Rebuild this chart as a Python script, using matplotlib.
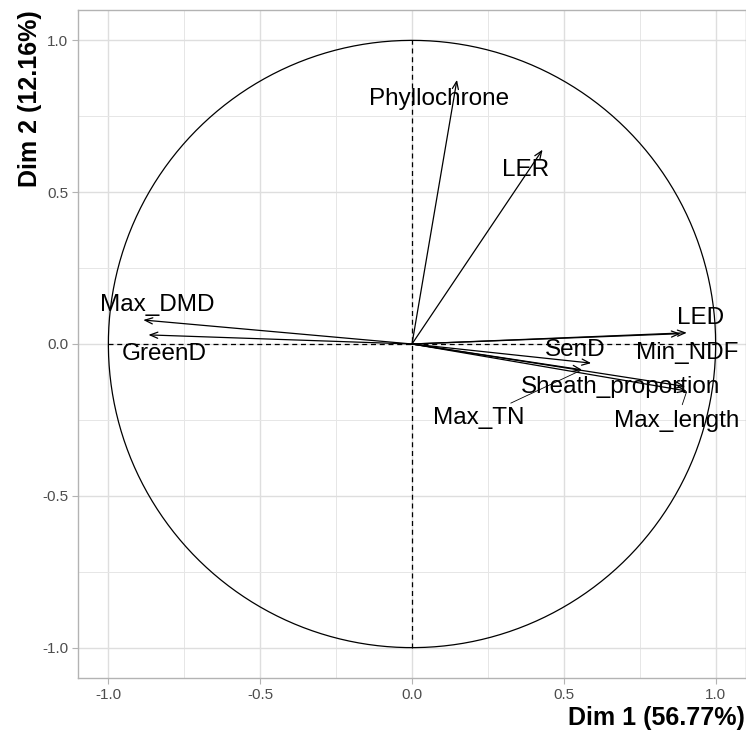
import numpy as np
import matplotlib.pyplot as plt

# PCA variable coordinates (Dim 1, Dim 2)
variables = ['Phyllochrone', 'LER', 'Max_DMD', 'GreenD', 'LED', 'Min_NDF',
             'SenD', 'Sheath_proportion', 'Max_TN', 'Max_length']
dim1 = [0.148, 0.43, -0.885, -0.868, 0.905, 0.885, 0.59, 0.90, 0.56, 0.905]
dim2 = [0.87, 0.64, 0.079, 0.030, 0.037, 0.034, -0.063, -0.140, -0.085, -0.155]

# repelled label positions
lab_x = [0.09, 0.375, -0.84, -0.816, 0.95, 0.905, 0.536, 0.688, 0.22, 0.872]
lab_y = [0.808, 0.573, 0.128, -0.033, 0.086, -0.03, -0.02, -0.142, -0.244, -0.254]
has_segment = ['Max_TN', 'Max_length']

pct1, pct2 = 56.77, 12.16

plt.rcParams['font.family'] = ['Liberation Sans', 'DejaVu Sans']

fig = plt.figure(figsize=(7.46, 7.35), dpi=100)
ax = fig.add_axes([78/746, 57/735, 668/746, 668/735])
ax.set_xlim(-1.1, 1.1)
ax.set_ylim(-1.1, 1.1)

ticks = [-1.0, -0.5, 0.0, 0.5, 1.0]
ax.set_xticks(ticks)
ax.set_yticks(ticks)
ax.set_xticks([-0.75, -0.25, 0.25, 0.75], minor=True)
ax.set_yticks([-0.75, -0.25, 0.25, 0.75], minor=True)
ax.set_xticklabels(['%.1f' % t for t in ticks])
ax.set_yticklabels(['%.1f' % t for t in ticks])
ax.grid(which='major', color='#DEDEDE', lw=1.0)
ax.grid(which='minor', color='#E6E6E6', lw=0.7)
ax.set_axisbelow(True)
ax.tick_params(which='major', color='#B3B3B3', length=4, width=0.8,
               labelcolor='#4D4D4D', labelsize=11, pad=3)
ax.tick_params(which='minor', length=0)
for s in ax.spines.values():
    s.set_color('#B3B3B3')
    s.set_linewidth(1.0)

# correlation circle and dashed axes
theta = np.linspace(0, 2*np.pi, 400)
ax.plot(np.cos(theta), np.sin(theta), color='black', lw=0.9)
ax.plot([-1, 1], [0, 0], color='black', lw=0.9, ls=(0, (4, 3)))
ax.plot([0, 0], [-1, 1], color='black', lw=0.9, ls=(0, (4, 3)))

for name, x, y, lx, ly in zip(variables, dim1, dim2, lab_x, lab_y):
    ax.annotate('', xy=(x, y), xytext=(0, 0),
                arrowprops=dict(arrowstyle='->,head_length=0.55,head_width=0.22',
                                color='black', lw=0.9, shrinkA=0, shrinkB=0))
    if name in has_segment:
        ax.annotate(name, xy=(x, y), xytext=(lx, ly), ha='center', va='center',
                    fontsize=17.5, color='black',
                    arrowprops=dict(arrowstyle='-', color='black', lw=0.6,
                                    shrinkA=2, shrinkB=1))
    else:
        ax.text(lx, ly, name, ha='center', va='center', fontsize=17.5, color='black')

fig.text(745/746, 1 - 718/735, 'Dim 1 (%.2f%%)' % pct1, ha='right', va='center',
         fontsize=18, fontweight='bold')
fig.text(30/746, 1 - 10/735, 'Dim 2 (%.2f%%)' % pct2, ha='center', va='top',
         rotation=90, fontsize=18, fontweight='bold')

fig.savefig('out.png', dpi=100, facecolor='white')
